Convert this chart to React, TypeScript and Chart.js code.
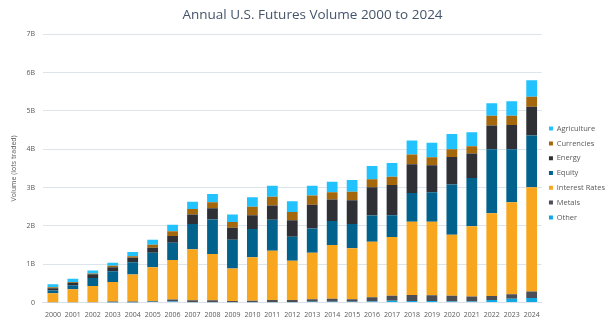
import React, { useEffect, useRef } from "react";
import { Chart, registerables } from "chart.js";

Chart.register(...registerables);

const years = ["2000","2001","2002","2003","2004","2005","2006","2007","2008","2009","2010","2011","2012","2013","2014","2015","2016","2017","2018","2019","2020","2021","2022","2023","2024"];

// values in billions of lots
const other = [0, 0, 0, 0.005, 0.005, 0.02, 0.03, 0.01, 0.01, 0.01, 0.01, 0.01, 0.01, 0.02, 0.02, 0.02, 0.03, 0.05, 0.04, 0.04, 0.03, 0.03, 0.07, 0.10, 0.12];
const metals = [0.01, 0.01, 0.01, 0.025, 0.025, 0.02, 0.05, 0.05, 0.05, 0.03, 0.04, 0.06, 0.06, 0.07, 0.08, 0.07, 0.11, 0.13, 0.16, 0.15, 0.15, 0.13, 0.10, 0.12, 0.17];
const interestRates = [0.235, 0.34, 0.42, 0.505, 0.70, 0.88, 1.03, 1.33, 1.21, 0.85, 1.13, 1.28, 1.02, 1.21, 1.40, 1.33, 1.45, 1.53, 1.91, 1.92, 1.59, 1.83, 2.16, 2.40, 2.72];
const equity = [0.07, 0.10, 0.21, 0.285, 0.32, 0.38, 0.45, 0.66, 0.90, 0.75, 0.74, 0.81, 0.63, 0.63, 0.63, 0.63, 0.68, 0.57, 0.75, 0.77, 1.31, 1.26, 1.67, 1.38, 1.35];
const energy = [0.06, 0.07, 0.10, 0.10, 0.12, 0.13, 0.18, 0.25, 0.29, 0.31, 0.36, 0.37, 0.43, 0.62, 0.56, 0.62, 0.74, 0.79, 0.75, 0.70, 0.72, 0.64, 0.62, 0.63, 0.75];
const currencies = [0.025, 0.02, 0.02, 0.04, 0.04, 0.08, 0.12, 0.14, 0.16, 0.15, 0.22, 0.23, 0.21, 0.24, 0.19, 0.22, 0.21, 0.21, 0.25, 0.21, 0.20, 0.19, 0.25, 0.24, 0.26];
const agriculture = [0.08, 0.08, 0.08, 0.08, 0.11, 0.13, 0.17, 0.19, 0.21, 0.20, 0.25, 0.29, 0.28, 0.26, 0.27, 0.31, 0.34, 0.36, 0.37, 0.38, 0.40, 0.36, 0.33, 0.38, 0.43];

const yTicks = [0, 1, 2, 3, 4, 5, 6, 7];

const FONT = "'Open Sans', 'Noto Sans', sans-serif";

export default function App() {
  const ref = useRef<HTMLCanvasElement | null>(null);
  useEffect(() => {
    if (!ref.current) return;
    const mk = (label: string, data: number[], color: string) => ({
      label,
      data,
      backgroundColor: color,
      borderWidth: 0,
      categoryPercentage: 1,
      barPercentage: 0.54,
    });
    const chart = new Chart(ref.current, {
      type: "bar",
      data: {
        labels: years,
        datasets: [
          mk("Other", other, "#10A8E4"),
          mk("Metals", metals, "#4B4E55"),
          mk("Interest Rates", interestRates, "#F8A61E"),
          mk("Equity", equity, "#01628D"),
          mk("Energy", energy, "#2E3035"),
          mk("Currencies", currencies, "#A4670B"),
          mk("Agriculture", agriculture, "#22C2FE"),
        ],
      },
      options: {
        animation: false,
        responsive: true,
        maintainAspectRatio: false,
        layout: { padding: { top: 5, right: 0, left: 10, bottom: 4 } },
        plugins: {
          title: {
            display: true,
            text: "Annual U.S. Futures Volume 2000 to 2024",
            color: "#44546A",
            font: { family: FONT, size: 13.5, weight: "normal" },
            padding: { top: 2, bottom: 11 },
          },
          legend: {
            position: "right",
            reverse: true,
            title: {
              display: true,
              text: " ",
              font: { family: FONT, size: 10, lineHeight: 1.2 },
              padding: { top: 5, bottom: 5 },
            },
            labels: {
              boxWidth: 4,
              boxHeight: 4,
              padding: 7.3,
              color: "#595959",
              font: { family: FONT, size: 7.5, lineHeight: 1 },
            },
          },
          tooltip: { enabled: false },
        },
        scales: {
          x: {
            stacked: true,
            grid: { display: false },
            border: { color: "#D9E1EA" },
            ticks: { color: "#595959", font: { family: FONT, size: 7 }, maxRotation: 0, autoSkip: false, padding: 0 },
          },
          y: {
            stacked: true,
            min: 0,
            max: 7,
            afterBuildTicks: (axis: any) => {
              axis.ticks = yTicks.map((v) => ({ value: v }));
            },
            grid: { color: "#DCE4EC", drawTicks: false },
            border: { display: false },
            ticks: {
              color: "#595959",
              font: { family: FONT, size: 7 },
              padding: 8,
              callback: (v: any) => (Number(v) === 0 ? "0" : `${v}B`),
            },
            title: {
              display: true,
              text: "Volume (lots traded)",
              color: "#595959",
              font: { family: FONT, size: 7 },
              padding: { top: 0, bottom: 0 },
            },
          },
        },
      },
    });
    return () => chart.destroy();
  }, []);
  return (
    <div style={{ position: "fixed", left: 0, top: 0, width: 615, height: 323, background: "#fff" }}>
      <canvas ref={ref} />
    </div>
  );
}
